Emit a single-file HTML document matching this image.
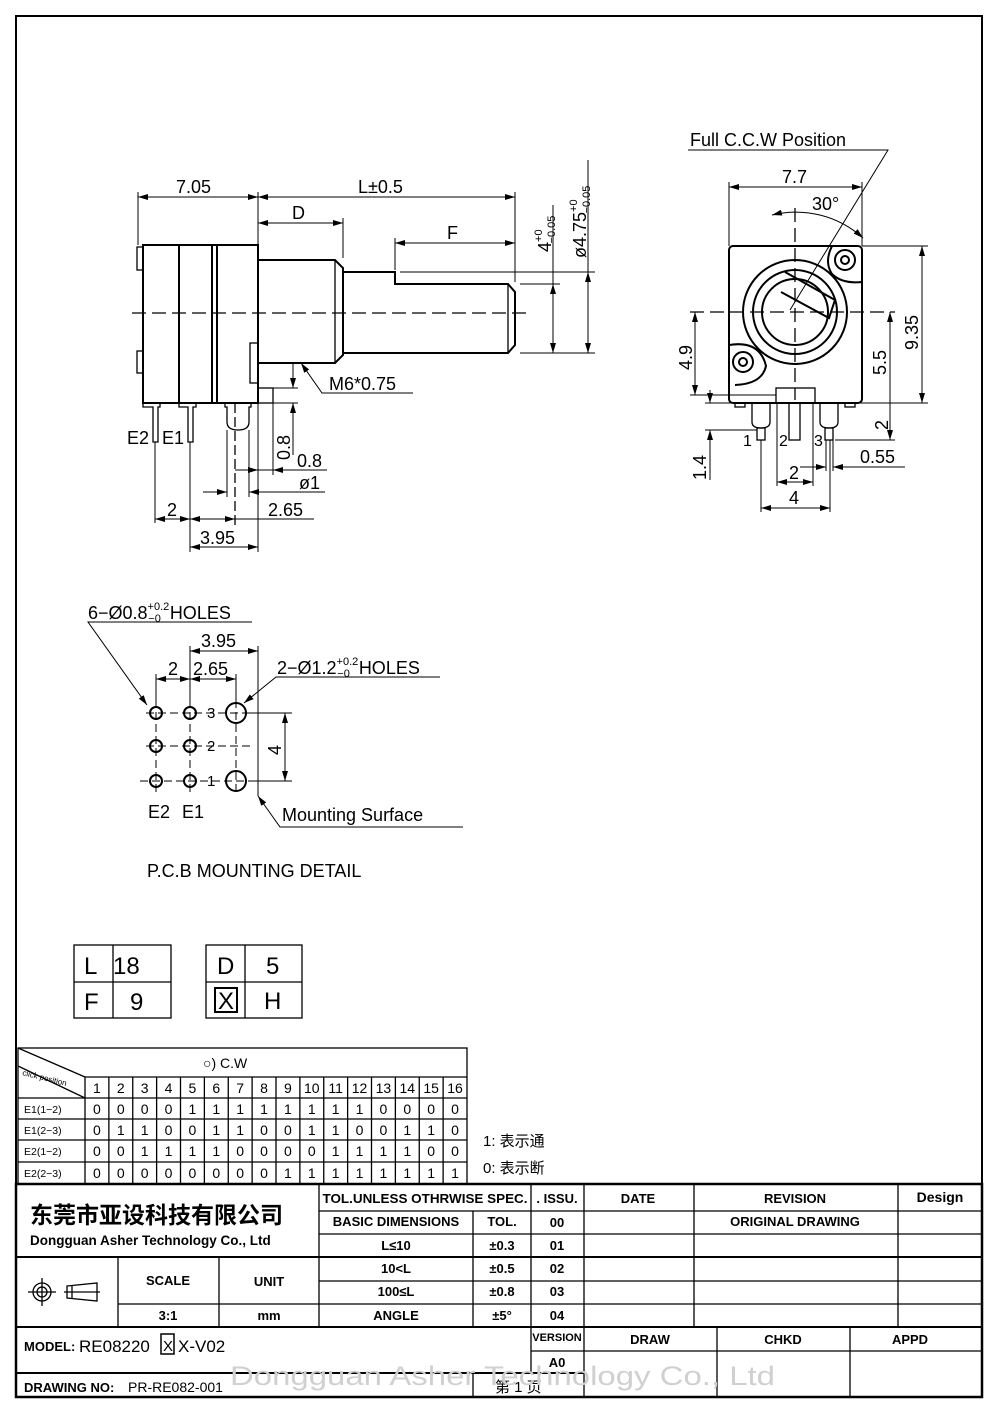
<!DOCTYPE html>
<html><head><meta charset="utf-8"><style>
html,body{margin:0;padding:0;background:#fff}
svg{display:block}
text{font-family:"Liberation Sans","Noto Sans CJK SC",sans-serif;fill:#000}
.c{font-family:"Liberation Sans Narrow","Liberation Sans","Noto Sans CJK SC",sans-serif;font-weight:bold}
</style></head><body>
<svg width="1000" height="1415" viewBox="0 0 1000 1415" xmlns="http://www.w3.org/2000/svg">
<defs>
<marker id="a" viewBox="0 0 10 6" refX="10" refY="3" markerWidth="10" markerHeight="6" markerUnits="userSpaceOnUse" orient="auto-start-reverse"><path d="M0,0 L10,3 L0,6 z" fill="#000"/></marker>
</defs>
<rect x="16" y="16" width="966" height="1381" fill="none" stroke="#000" stroke-width="2"/>

<g fill="none" stroke="#000" stroke-width="1.3">
<rect x="143" y="245" width="115" height="158" stroke-width="2"/>
<line x1="179" y1="245" x2="179" y2="403" stroke-width="2"/>
<line x1="212" y1="245" x2="212" y2="403" stroke-width="2"/>
<line x1="217" y1="245" x2="217" y2="403" stroke-width="2"/>
<rect x="137" y="247" width="6" height="23"/>
<rect x="137" y="351" width="6" height="22"/>
<path d="M258,260 H335 L343,268 V355 L335,363 H258" stroke-width="2"/>
<line x1="335" y1="260" x2="335" y2="363"/>
<path d="M343,272 H395 V284 H508 L515,292 V345 L508,353 H343" stroke-width="2"/>
<line x1="508" y1="284" x2="508" y2="353"/>
<rect x="250" y="343" width="8" height="40"/>
<rect x="258" y="388" width="15" height="15"/>
<line x1="132" y1="313" x2="527" y2="313" stroke-dasharray="14,6"/>
<path d="M143,403 V407 H153 V442 H158 V407 H160 V403"/>
<path d="M179,403 V407 H188 V442 H193 V407 H196 V403"/>
<path d="M225,403 V407 H227 V422 Q227,430 238,430 Q249,430 249,422 V407 H251 V403"/>
<line x1="235" y1="403" x2="235" y2="525" stroke-dasharray="10,4"/>
<line x1="138" y1="192" x2="138" y2="245" stroke-width="1"/>
<line x1="258" y1="192" x2="258" y2="258" stroke-width="1"/>
<line x1="343" y1="218" x2="343" y2="258" stroke-width="1"/>
<line x1="395" y1="238" x2="395" y2="270" stroke-width="1"/>
<line x1="515" y1="192" x2="515" y2="282" stroke-width="1"/>
<line x1="138" y1="197" x2="258" y2="197" stroke-width="1" marker-start="url(#a)" marker-end="url(#a)"/>
<line x1="258" y1="197" x2="515" y2="197" stroke-width="1" marker-start="url(#a)" marker-end="url(#a)"/>
<line x1="258" y1="223" x2="343" y2="223" stroke-width="1" marker-start="url(#a)" marker-end="url(#a)"/>
<line x1="395" y1="243" x2="515" y2="243" stroke-width="1" marker-start="url(#a)" marker-end="url(#a)"/>
<line x1="520" y1="284" x2="560" y2="284" stroke-width="1"/>
<line x1="520" y1="353" x2="595" y2="353" stroke-width="1"/>
<line x1="400" y1="272" x2="595" y2="272" stroke-width="1"/>
<line x1="553" y1="284" x2="553" y2="353" stroke-width="1" marker-start="url(#a)" marker-end="url(#a)"/>
<line x1="553" y1="205" x2="553" y2="284" stroke-width="1"/>
<line x1="588" y1="272" x2="588" y2="353" stroke-width="1" marker-start="url(#a)" marker-end="url(#a)"/>
<line x1="588" y1="160" x2="588" y2="272" stroke-width="1"/>
<polyline points="301,363 322,393 413,393" stroke-width="1" marker-start="url(#a)"/>
<line x1="273" y1="388" x2="298" y2="388" stroke-width="1"/>
<line x1="273" y1="403" x2="298" y2="403" stroke-width="1"/>
<line x1="293" y1="364" x2="293" y2="388" stroke-width="1" marker-end="url(#a)"/>
<line x1="293" y1="455" x2="293" y2="403" stroke-width="1" marker-end="url(#a)"/>
<line x1="155" y1="442" x2="155" y2="523" stroke-width="1"/>
<line x1="190" y1="442" x2="190" y2="552" stroke-width="1"/>
<line x1="258" y1="403" x2="258" y2="552" stroke-width="1"/>
<line x1="227" y1="430" x2="227" y2="497" stroke-width="1"/>
<line x1="249" y1="430" x2="249" y2="497" stroke-width="1"/>
<line x1="273" y1="403" x2="273" y2="475" stroke-width="1"/>
<line x1="235" y1="470" x2="327" y2="470" stroke-width="1"/>
<line x1="235" y1="470" x2="258" y2="470" stroke-width="1" marker-end="url(#a)"/>
<line x1="290" y1="470" x2="273" y2="470" stroke-width="1" marker-end="url(#a)"/>
<line x1="203" y1="492" x2="227" y2="492" stroke-width="1" marker-end="url(#a)"/>
<line x1="325" y1="492" x2="249" y2="492" stroke-width="1" marker-end="url(#a)"/>
<line x1="155" y1="519" x2="190" y2="519" stroke-width="1" marker-start="url(#a)" marker-end="url(#a)"/>
<line x1="190" y1="519" x2="235" y2="519" stroke-width="1" marker-start="url(#a)" marker-end="url(#a)"/>
<line x1="235" y1="519" x2="314" y2="519" stroke-width="1"/>
<line x1="190" y1="547" x2="258" y2="547" stroke-width="1" marker-start="url(#a)" marker-end="url(#a)"/>

<rect x="729" y="246" width="133" height="157" rx="4" stroke-width="2"/>
<circle cx="795" cy="312" r="52" stroke-width="2"/>
<circle cx="795" cy="312" r="42" stroke-width="2"/>
<circle cx="795" cy="312" r="33" stroke-width="2"/>
<path d="M785,272 L835,300 L829,318 L781,292" stroke-width="2"/>
<path d="M832,246 Q824,262 832,274 Q842,284 862,282" stroke-width="2"/>
<circle cx="845" cy="260" r="10" stroke-width="2"/><circle cx="845" cy="260" r="4" stroke-width="2"/>
<path d="M729,345 Q760,340 766,366 Q762,384 735,385" stroke-width="2"/>
<circle cx="743" cy="362" r="10" stroke-width="2"/><circle cx="743" cy="362" r="4" stroke-width="2"/>
<line x1="690" y1="312" x2="895" y2="312" stroke-dasharray="14,6"/>
<line x1="795" y1="208" x2="795" y2="400" stroke-dasharray="14,6"/>
<rect x="776" y="388" width="39" height="15"/>
<path d="M752,403 V422 Q752,428 761,428 Q770,428 770,422 V403"/>
<rect x="757" y="428" width="8" height="12"/>
<rect x="789" y="403" width="11" height="37"/>
<path d="M820,403 V422 Q820,428 829,428 Q838,428 838,422 V403"/>
<rect x="825" y="428" width="8" height="12"/>
<rect x="735" y="403" width="10" height="4"/><rect x="845" y="403" width="10" height="4"/>
<polyline points="688,150 888,150 790,310" stroke-width="1"/>
<path d="M772,215 A100,100 0 0 1 863,238" stroke-width="1" marker-start="url(#a)" marker-end="url(#a)"/>
<line x1="729" y1="182" x2="729" y2="246" stroke-width="1"/>
<line x1="862" y1="182" x2="862" y2="246" stroke-width="1"/>
<line x1="729" y1="187" x2="862" y2="187" stroke-width="1" marker-start="url(#a)" marker-end="url(#a)"/>
<line x1="862" y1="246" x2="928" y2="246" stroke-width="1"/>
<line x1="855" y1="403" x2="928" y2="403" stroke-width="1"/>
<line x1="922" y1="246" x2="922" y2="403" stroke-width="1" marker-start="url(#a)" marker-end="url(#a)"/>
<line x1="890" y1="312" x2="890" y2="440" stroke-width="1" marker-start="url(#a)" marker-end="url(#a)"/>
<line x1="835" y1="440" x2="895" y2="440" stroke-width="1"/>
<line x1="695" y1="312" x2="695" y2="395" stroke-width="1" marker-start="url(#a)" marker-end="url(#a)"/>
<line x1="690" y1="395" x2="776" y2="395" stroke-width="1"/>
<line x1="705" y1="403" x2="735" y2="403" stroke-width="1"/>
<line x1="705" y1="430" x2="757" y2="430" stroke-width="1"/>
<line x1="710" y1="390" x2="710" y2="403" stroke-width="1" marker-end="url(#a)"/>
<line x1="710" y1="480" x2="710" y2="430" stroke-width="1" marker-end="url(#a)"/>
<line x1="761" y1="440" x2="761" y2="512" stroke-width="1"/>
<line x1="830" y1="440" x2="830" y2="512" stroke-width="1"/>
<line x1="777" y1="403" x2="777" y2="486" stroke-width="1"/>
<line x1="813" y1="403" x2="813" y2="486" stroke-width="1"/>
<line x1="826" y1="440" x2="826" y2="471" stroke-width="1"/>
<line x1="833" y1="440" x2="833" y2="471" stroke-width="1"/>
<line x1="761" y1="508" x2="830" y2="508" stroke-width="1" marker-start="url(#a)" marker-end="url(#a)"/>
<line x1="777" y1="482" x2="813" y2="482" stroke-width="1" marker-start="url(#a)" marker-end="url(#a)"/>
<line x1="800" y1="467" x2="826" y2="467" stroke-width="1" marker-end="url(#a)"/>
<line x1="905" y1="467" x2="833" y2="467" stroke-width="1" marker-end="url(#a)"/>

<g stroke-width="2">
<circle cx="156" cy="713" r="6"/><circle cx="190" cy="713" r="6"/><circle cx="236" cy="713" r="10"/>
<circle cx="156" cy="746" r="6"/><circle cx="190" cy="746" r="6"/>
<circle cx="156" cy="781" r="6"/><circle cx="190" cy="781" r="6"/><circle cx="236" cy="781" r="10"/>
</g>
<g stroke-width="1" stroke-dasharray="8,4">
<line x1="146" y1="713" x2="250" y2="713"/><line x1="146" y1="746" x2="250" y2="746"/><line x1="140" y1="781" x2="250" y2="781"/>
<line x1="156" y1="700" x2="156" y2="795"/><line x1="190" y1="700" x2="190" y2="795"/><line x1="236" y1="700" x2="236" y2="795"/>
</g>
<line x1="156" y1="674" x2="156" y2="700" stroke-width="1"/>
<line x1="190" y1="646" x2="190" y2="700" stroke-width="1"/>
<line x1="236" y1="674" x2="236" y2="700" stroke-width="1"/>
<line x1="258" y1="646" x2="258" y2="796" stroke-width="1"/>
<line x1="156" y1="679" x2="190" y2="679" stroke-width="1" marker-start="url(#a)" marker-end="url(#a)"/>
<line x1="190" y1="679" x2="236" y2="679" stroke-width="1" marker-start="url(#a)" marker-end="url(#a)"/>
<line x1="190" y1="651" x2="258" y2="651" stroke-width="1" marker-start="url(#a)" marker-end="url(#a)"/>
<line x1="250" y1="713" x2="292" y2="713" stroke-width="1"/>
<line x1="250" y1="781" x2="292" y2="781" stroke-width="1"/>
<line x1="285" y1="713" x2="285" y2="781" stroke-width="1" marker-start="url(#a)" marker-end="url(#a)"/>
<polyline points="252,622 88,622 147,705" stroke-width="1" marker-end="url(#a)"/>
<polyline points="440,677 276,677 244,703" stroke-width="1" marker-end="url(#a)"/>
<polyline points="258,796 280,827 463,827" stroke-width="1" marker-start="url(#a)"/>

<rect x="74" y="945" width="97" height="73"/><line x1="113" y1="945" x2="113" y2="1018"/><line x1="74" y1="982" x2="171" y2="982"/>
<rect x="206" y="945" width="96" height="73"/><line x1="245" y1="945" x2="245" y2="1018"/><line x1="206" y1="982" x2="302" y2="982"/>
<rect x="215" y="988" width="22" height="24" stroke-width="2"/>
</g>

<g font-size="18">
<text x="176" y="193">7.05</text>
<text x="358" y="193">L±0.5</text>
<text x="292" y="219">D</text>
<text x="447" y="239">F</text>
<text transform="translate(551,252) rotate(-90)">4<tspan font-size="11" dy="-9">+0</tspan><tspan font-size="11" dx="-14" dy="13">−0.05</tspan></text>
<text transform="translate(586,258) rotate(-90)">ø4.75<tspan font-size="11" dy="-9">+0</tspan><tspan font-size="11" dx="-14" dy="13">−0.05</tspan></text>
<text x="329" y="390">M6*0.75</text>
<text transform="translate(290,460) rotate(-90)">0.8</text>
<text x="297" y="467">0.8</text>
<text x="299" y="489">ø1</text>
<text x="268" y="516">2.65</text>
<text x="167" y="516">2</text>
<text x="200" y="544">3.95</text>
<text x="127" y="444">E2</text><text x="162" y="444">E1</text>
<text x="690" y="146">Full  C.C.W  Position</text>
<text x="782" y="183">7.7</text>
<text x="812" y="210">30°</text>
<text transform="translate(918,350) rotate(-90)">9.35</text>
<text transform="translate(886,375) rotate(-90)">5.5</text>
<text transform="translate(888,430) rotate(-90)">2</text>
<text transform="translate(692,370) rotate(-90)">4.9</text>
<text transform="translate(706,480) rotate(-90)">1.4</text>
<text x="860" y="463">0.55</text>
<text x="789" y="479">2</text>
<text x="789" y="504">4</text>
<text x="743" y="446" font-family="Liberation Serif" font-size="16">1</text>
<text x="779" y="446" font-family="Liberation Serif" font-size="16">2</text>
<text x="814" y="446" font-family="Liberation Serif" font-size="16">3</text>
<text x="88" y="619">6−Ø0.8<tspan font-size="11" dy="-9">+0.2</tspan><tspan font-size="11" dx="-21" dy="12">−0</tspan><tspan dx="9" dy="-3">HOLES</tspan></text>
<text x="201" y="647">3.95</text>
<text x="168" y="675">2</text>
<text x="193" y="675">2.65</text>
<text x="277" y="674">2−Ø1.2<tspan font-size="11" dy="-9">+0.2</tspan><tspan font-size="11" dx="-21" dy="12">−0</tspan><tspan dx="9" dy="-3">HOLES</tspan></text>
<text transform="translate(281,755) rotate(-90)">4</text>
<text x="148" y="818">E2</text><text x="182" y="818">E1</text>
<text x="282" y="821">Mounting  Surface</text>
<text x="147" y="877">P.C.B  MOUNTING  DETAIL</text>
</g>
<g font-family="Liberation Serif" font-size="15"><text x="207" y="718">3</text><text x="207" y="751">2</text><text x="207" y="786">1</text></g>
<g font-size="24"><text x="84" y="974">L</text><text x="113" y="974">18</text><text x="84" y="1010">F</text><text x="130" y="1010">9</text>
<text x="217" y="974">D</text><text x="266" y="974">5</text><text x="218" y="1009">X</text><text x="264" y="1009">H</text></g>

<g stroke="#000" stroke-width="1.3" fill="none">
<rect x="18" y="1048" width="449" height="136"/>
<line x1="85" y1="1077" x2="467" y2="1077"/>
<line x1="18" y1="1098" x2="467" y2="1098"/>
<line x1="18" y1="1119" x2="467" y2="1119"/>
<line x1="18" y1="1140" x2="467" y2="1140"/>
<line x1="18" y1="1162" x2="467" y2="1162"/>
<line x1="85" y1="1077" x2="85" y2="1184"/>
<line x1="18" y1="1048" x2="85" y2="1077"/>
<line x1="18" y1="1066" x2="85" y2="1098"/>
</g>
<g stroke="#000" stroke-width="1.3" id="cols"></g>
<text x="203" y="1068" font-size="14">○) C.W</text>
<text transform="translate(22,1075) rotate(14)" font-size="8">click  position</text>
<g font-size="10.5"><text x="24" y="1113">E1(1−2)</text><text x="24" y="1134">E1(2−3)</text><text x="24" y="1155">E2(1−2)</text><text x="24" y="1177">E2(2−3)</text></g>
<g id="cells" font-size="14" text-anchor="middle"></g>
<text x="483" y="1146" font-size="15">1: 表示通</text>
<text x="483" y="1173" font-size="15">0: 表示断</text>

<g stroke="#000" fill="none" stroke-width="1.3">
<rect x="16" y="1184" width="966" height="213" stroke-width="2.5"/>
<line x1="16" y1="1257" x2="319" y2="1257" stroke-width="2"/>
<line x1="16" y1="1327" x2="982" y2="1327" stroke-width="2"/>
<line x1="319" y1="1184" x2="319" y2="1327"/>
<line x1="531" y1="1184" x2="531" y2="1373"/>
<line x1="584" y1="1184" x2="584" y2="1397"/>
<line x1="694" y1="1184" x2="694" y2="1327"/>
<line x1="898" y1="1184" x2="898" y2="1327"/>
<line x1="473" y1="1211" x2="473" y2="1327"/>
<line x1="319" y1="1211" x2="982" y2="1211"/>
<line x1="319" y1="1234" x2="982" y2="1234"/>
<line x1="319" y1="1257" x2="982" y2="1257" stroke-width="2"/>
<line x1="319" y1="1281" x2="982" y2="1281"/>
<line x1="118" y1="1304" x2="982" y2="1304"/>
<line x1="118" y1="1257" x2="118" y2="1327"/>
<line x1="219" y1="1257" x2="219" y2="1327"/>
<line x1="584" y1="1351" x2="982" y2="1351"/>
<line x1="531" y1="1351" x2="584" y2="1351"/>
<line x1="717" y1="1327" x2="717" y2="1397"/>
<line x1="850" y1="1327" x2="850" y2="1397"/>
<line x1="16" y1="1373" x2="584" y2="1373" stroke-width="2"/>
<line x1="473" y1="1373" x2="473" y2="1397"/>
<rect x="161" y="1334" width="13" height="20" stroke-width="1.5"/>
<circle cx="42" cy="1292" r="9"/><circle cx="42" cy="1292" r="5"/>
<line x1="28" y1="1292" x2="56" y2="1292"/><line x1="42" y1="1278" x2="42" y2="1306"/>
<path d="M67,1286 L97,1283 V1301 L67,1298 Z"/><line x1="64" y1="1292" x2="100" y2="1292"/><line x1="72" y1="1286" x2="72" y2="1298"/>
</g>
<text x="30" y="1223" font-size="23" font-weight="bold" font-family="'Noto Sans CJK SC',sans-serif">东莞市亚设科技有限公司</text>
<text x="30" y="1245" font-size="13.5" font-weight="bold">Dongguan Asher Technology Co., Ltd</text>
<g class="c" font-size="13" text-anchor="middle">
<text x="425" y="1203" textLength="205" lengthAdjust="spacingAndGlyphs">TOL.UNLESS OTHRWISE SPEC.</text>
<text x="557" y="1203">. ISSU.</text>
<text x="638" y="1203">DATE</text>
<text x="795" y="1203">REVISION</text>
<text x="940" y="1202" font-size="14">Design</text>
<text x="396" y="1226">BASIC DIMENSIONS</text>
<text x="502" y="1226">TOL.</text>
<text x="557" y="1227">00</text>
<text x="795" y="1226">ORIGINAL   DRAWING</text>
<text x="396" y="1250">L≤10</text><text x="502" y="1250">±0.3</text><text x="557" y="1250">01</text>
<text x="396" y="1273">10&lt;L</text><text x="502" y="1273">±0.5</text><text x="557" y="1273">02</text>
<text x="396" y="1296">100≤L</text><text x="502" y="1296">±0.8</text><text x="557" y="1296">03</text>
<text x="396" y="1320">ANGLE</text><text x="502" y="1320">±5°</text><text x="557" y="1320">04</text>
<text x="168" y="1285">SCALE</text><text x="269" y="1286">UNIT</text>
<text x="168" y="1320">3:1</text><text x="269" y="1320">mm</text>
<text x="557" y="1341" font-size="11">VERSION</text>
<text x="650" y="1344">DRAW</text><text x="783" y="1344">CHKD</text><text x="910" y="1344">APPD</text>
<text x="557" y="1367">A0</text>
</g>
<g class="c"><text x="24" y="1351" font-size="13">MODEL:</text><text x="79" y="1352" font-size="17" font-weight="normal">RE08220</text><text x="163" y="1351" font-size="15" font-weight="normal">X</text><text x="178" y="1352" font-size="17" font-weight="normal">X-V02</text>
<text x="24" y="1392" font-size="13">DRAWING NO:</text></g>
<text x="128" y="1392" font-size="14" font-family="'Liberation Serif',serif">PR-RE082-001</text>
<text x="495" y="1392" font-size="15" font-family="'Noto Serif CJK SC',serif">第  1  页</text>
<text x="230" y="1385" font-size="27" style="fill:#d0d0d0" font-family="'Liberation Mono',monospace" textLength="545" lengthAdjust="spacingAndGlyphs">Dongguan Asher Technology Co., Ltd</text>

<script>
var ns="http://www.w3.org/2000/svg",cols=document.getElementById("cols"),cells=document.getElementById("cells");
var w=(467-85)/16;
for(var i=1;i<16;i++){var l=document.createElementNS(ns,"line");var x=85+i*w;l.setAttribute("x1",x);l.setAttribute("x2",x);l.setAttribute("y1",1077);l.setAttribute("y2",1184);cols.appendChild(l);}
var d=["0000111111110000","0110011001100110","0011110000111100","0000000011111111"];
function t(x,y,s){var e=document.createElementNS(ns,"text");e.setAttribute("x",x);e.setAttribute("y",y);e.textContent=s;cells.appendChild(e);}
for(var i=0;i<16;i++){var cx=85+w*(i+0.5);t(cx,1093,String(i+1));for(var r=0;r<4;r++)t(cx,[1114,1135,1156,1178][r],d[r][i]);}
</script>
</svg>
</body></html>
